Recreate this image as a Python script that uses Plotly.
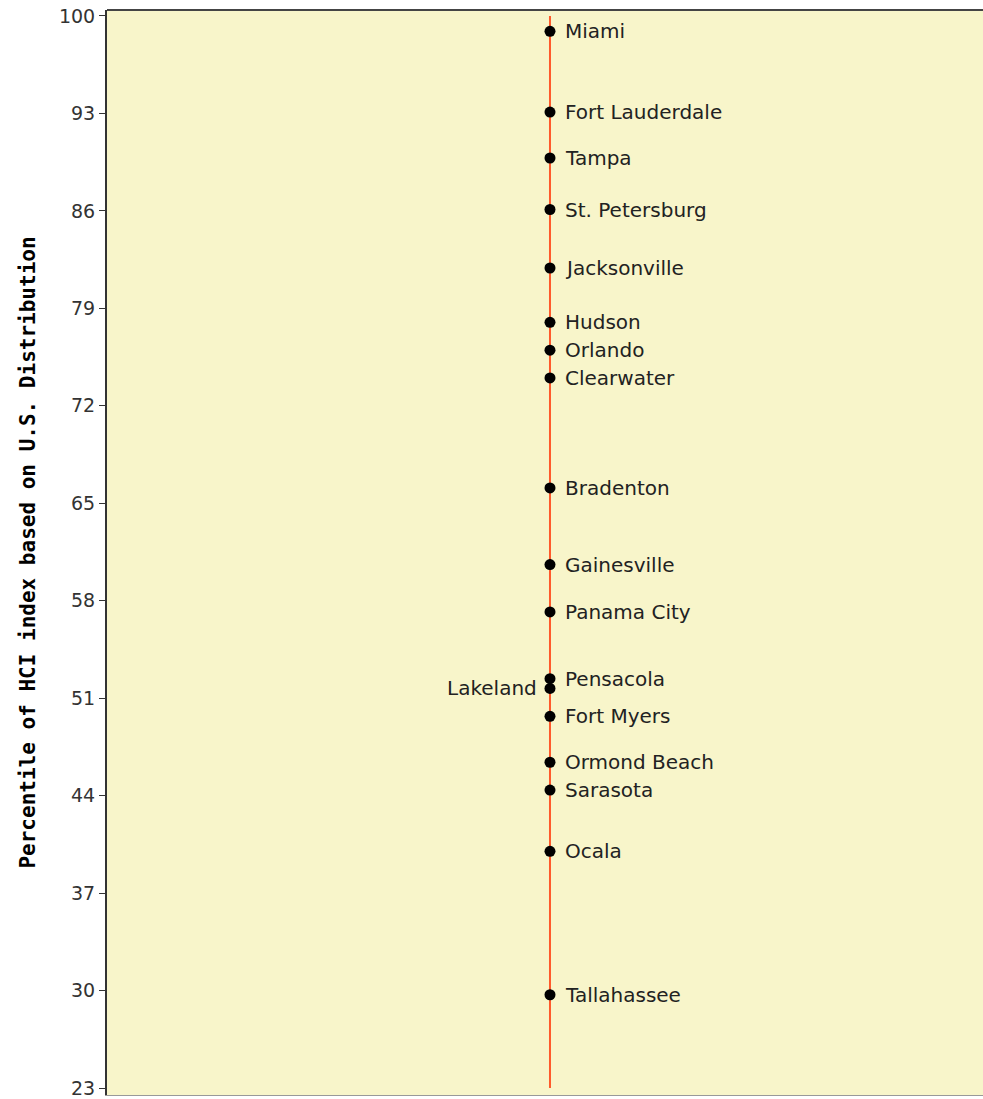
import plotly.graph_objects as go

# ---- data ----
cities = ["Miami", "Fort Lauderdale", "Tampa", "St. Petersburg", "Jacksonville",
          "Hudson", "Orlando", "Clearwater", "Bradenton", "Gainesville",
          "Panama City", "Pensacola", "Lakeland", "Fort Myers", "Ormond Beach",
          "Sarasota", "Ocala", "Tallahassee"]
percentiles = [98.9, 93.1, 89.8, 86.1, 81.9, 78.0, 76.0, 74.0, 66.1, 60.6,
               57.2, 52.4, 51.7, 49.7, 46.4, 44.4, 40.0, 29.7]
label_side = ["right"] * 12 + ["left"] + ["right"] * 5
tick_values = [23, 30, 37, 44, 51, 58, 65, 72, 79, 86, 93, 100]
y_title = "Percentile of HCI index based on U.S. Distribution"

xpos = [0] * len(cities)

fig = go.Figure()

# vertical reference line spanning the axis scale
fig.add_trace(go.Scatter(
    x=[0, 0], y=[tick_values[0], tick_values[-1]],
    mode="lines", line=dict(color="#FF5A2B", width=2),
    hoverinfo="skip", showlegend=False))

# city points
fig.add_trace(go.Scatter(
    x=xpos, y=percentiles, mode="markers",
    marker=dict(color="black", size=11, symbol="circle"),
    text=cities, hoverinfo="text+y", showlegend=False))

for c, v, side in zip(cities, percentiles, label_side):
    fig.add_annotation(
        x=0, y=v, text=c, showarrow=False,
        xanchor="left" if side == "right" else "right",
        yanchor="middle",
        xshift=13 if side == "right" else -11,
        font=dict(family="DejaVu Sans", size=20, color="#222222"))

# top border of plotting area
fig.add_shape(type="line", xref="paper", yref="paper", x0=0, x1=1, y0=1, y1=1,
              line=dict(color="#444444", width=2))

fig.update_layout(
    width=983, height=1099,
    margin=dict(l=107, r=0, t=10, b=2),
    paper_bgcolor="white",
    plot_bgcolor="#F8F5CA",
    showlegend=False,
)

fig.update_xaxes(range=[-0.5057, 0.4943], showticklabels=False, showgrid=False,
                 zeroline=False, showline=True, linecolor="#999999", linewidth=1,
                 ticks="")
fig.update_yaxes(range=[22.5, 100.43], tickvals=tick_values,
                 ticktext=[str(t) for t in tick_values],
                 ticklabeloverflow="allow",
                 showgrid=False, zeroline=False, showline=True,
                 linecolor="#333333", linewidth=2,
                 ticks="outside", ticklen=6, tickcolor="#333333", tickwidth=1,
                 tickfont=dict(family="DejaVu Sans", size=19, color="#333333"),
                 title=dict(text=y_title, standoff=18,
                            font=dict(family="DejaVu Sans Mono", size=21,
                                      color="#000000", weight="bold")))

fig.write_html("out.html", config={"displayModeBar": False},
               post_script="document.body.style.margin='0';document.body.style.overflow='hidden';")
